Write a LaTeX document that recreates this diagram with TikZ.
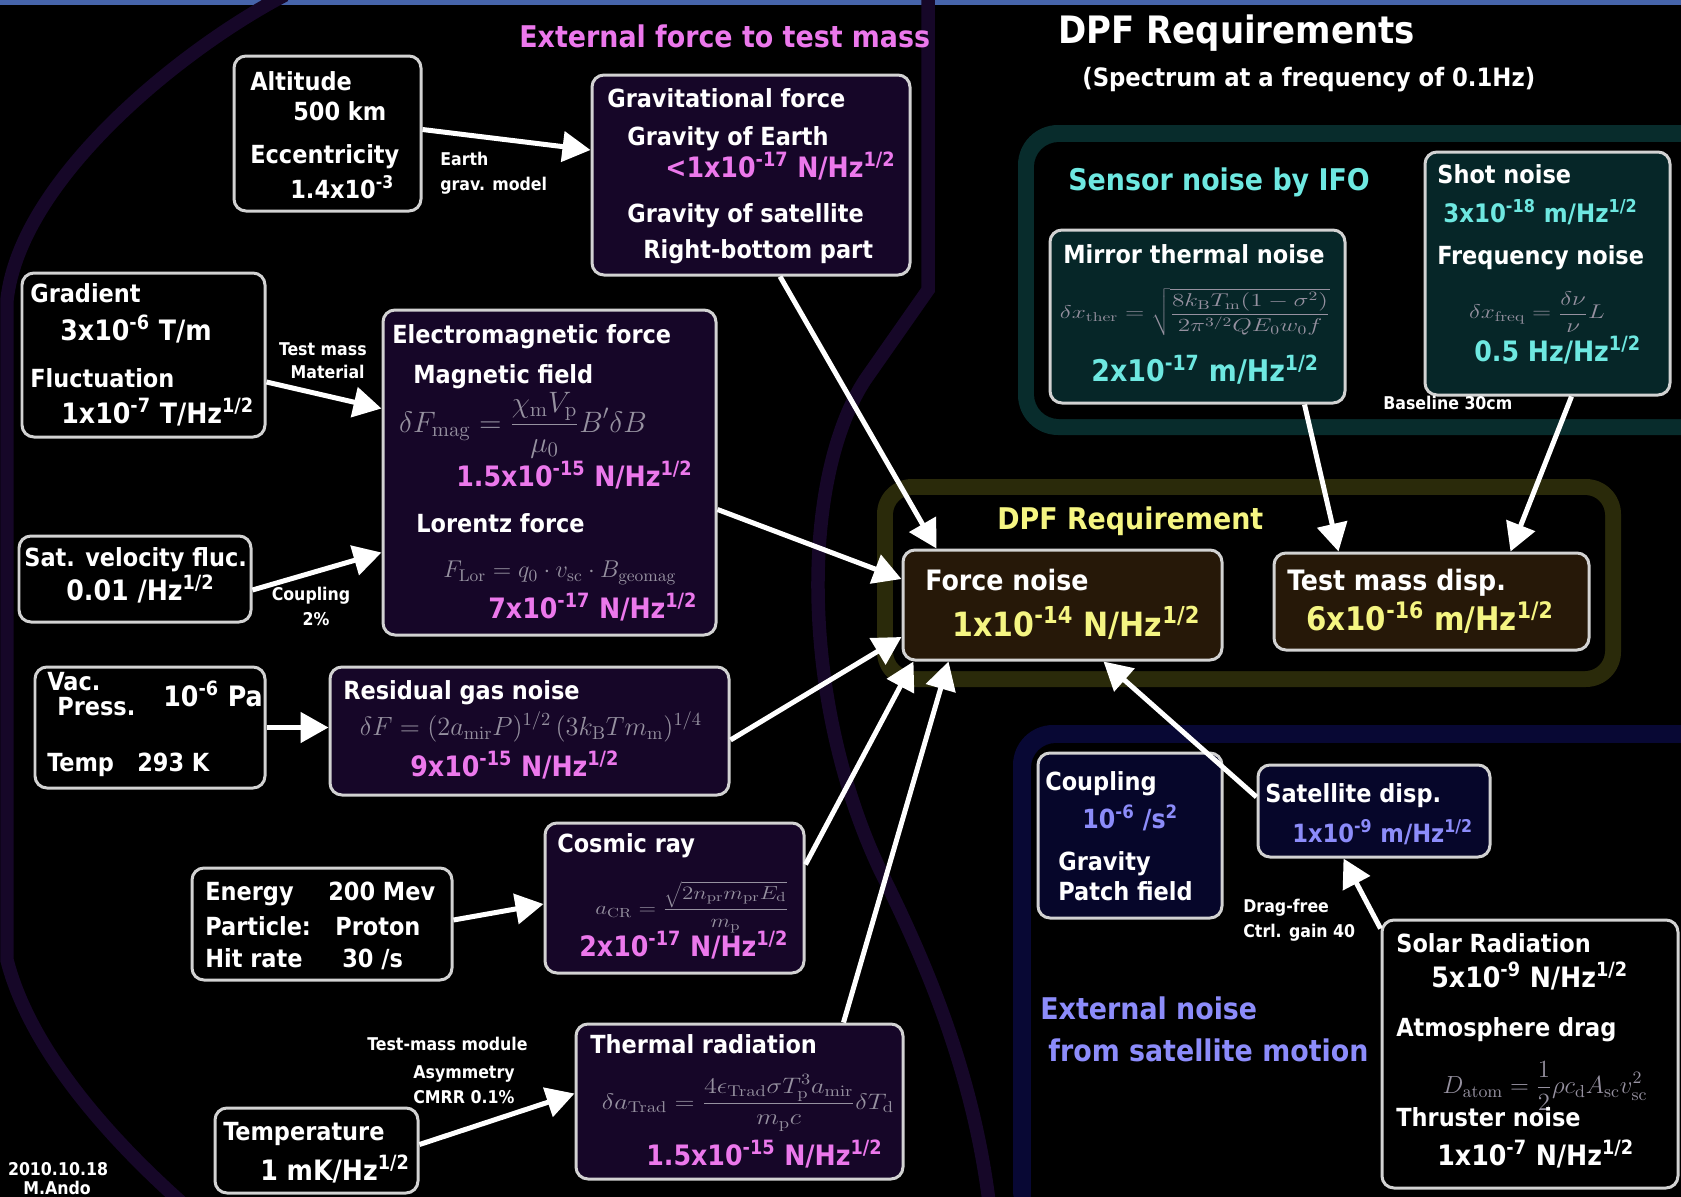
\RequirePackage{fix-cm}
\documentclass[tikz,border=0pt]{standalone}
\usepackage[no-math]{fontspec}
\setmainfont{DejaVu Sans Condensed}
\usetikzlibrary{arrows.meta, calc, fit}

\definecolor{boxline}{RGB}{210,210,210}
\definecolor{forcebg}{RGB}{22,6,40}
\definecolor{sensorbg}{RGB}{6,38,40}
\definecolor{dpfbg}{RGB}{38,24,8}
\definecolor{extbg}{RGB}{6,6,42}
\definecolor{ringcol}{RGB}{22,7,40}
\definecolor{tealframe}{RGB}{8,44,44}
\definecolor{yelframe}{RGB}{42,42,10}
\definecolor{blueframe}{RGB}{8,8,52}
\definecolor{topbar}{RGB}{70,100,170}
\definecolor{forcetxt}{RGB}{236,120,236}
\definecolor{sensortxt}{RGB}{110,232,225}
\definecolor{dpftxt}{RGB}{245,245,130}
\definecolor{exttxt}{RGB}{140,140,250}
\definecolor{eqgray}{RGB}{150,145,160}

% formulas are drawn a little flatter than they are set
\newcommand{\squash}[2]{\scalebox{1}[#1]{#2}}

\begin{document}
\begin{tikzpicture}[x=0.02cm, y=-0.02cm,
	box/.style={draw=boxline, line width=0.06cm, rounded corners=0.24cm, inner sep=0pt},
	parbox/.style={box, fill=black},
	forcebox/.style={box, fill=forcebg},
	sensorbox/.style={box, fill=sensorbg},
	dpfbox/.style={box, fill=dpfbg},
	extbox/.style={box, fill=extbg},
	txt/.style={inner sep=0pt, anchor=base west, text=white, font=\fontsize{14.2}{17}\selectfont\bfseries},
	vtxt/.style={txt, font=\fontsize{16}{19}\selectfont\bfseries},
	ftxt/.style={txt, text=forcetxt, font=\fontsize{16}{19}\selectfont\bfseries},
	stxt/.style={txt, text=sensortxt, font=\fontsize{16}{19}\selectfont\bfseries},
	etxt/.style={txt, text=exttxt, font=\fontsize{15}{18}\selectfont\bfseries},
	dhead/.style={txt, font=\fontsize{16}{19}\selectfont\bfseries},
	dtxt/.style={txt, text=dpftxt, font=\fontsize{19}{22}\selectfont\bfseries},
	lbl/.style={txt, font=\fontsize{10}{12}\selectfont\bfseries},
	head/.style={txt, font=\fontsize{17}{20}\selectfont\bfseries},
	eqn/.style={inner sep=0pt, text=eqgray, font=\fontsize{15}{18}\selectfont},
	flow/.style={-{Triangle[length=0.56cm,width=0.6cm]}, draw=white, fill=white, line width=0.1cm},
	]
	\useasboundingbox (0,0) rectangle (1681,1197);
	\fill[black] (0,0) rectangle (1681,1197);
	\fill[topbar] (0,0) rectangle (1681,5);
	
	% background regions
	\draw[ringcol, line width=0.27cm] (285,-5) .. controls (180,50) and (20,180) .. (7,300) -- (7,960) .. controls (30,1050) and (110,1140) .. (190,1210);
	\draw[ringcol, line width=0.27cm] (928,-5) -- (928,290) -- (865,380) .. controls (800,480) and (800,700) .. (880,870) .. controls (930,970) and (975,1080) .. (990,1210);
	\fill[tealframe, rounded corners=0.8cm] (1018,125) rectangle (1730,435);
	\fill[black, rounded corners=0.5cm] (1034,142) rectangle (1730,419);
	\fill[yelframe, rounded corners=0.7cm] (877,479) rectangle (1621,687);
	\fill[black, rounded corners=0.4cm] (893,495) rectangle (1605,671);
	\fill[blueframe, rounded corners=0.8cm] (1013,725) rectangle (1730,1230);
	\fill[black, rounded corners=0.5cm] (1031,743) rectangle (1730,1230);
	
	% boxes
	\node[parbox, fit={(234,56) (421,211)}] (alt) {};
	\node[forcebox, fit={(592,75) (910,275)}] (grav) {};
	\node[parbox, fit={(22,273) (265,437)}] (grad) {};
	\node[forcebox, fit={(383,310) (716,635)}] (em) {};
	\node[parbox, fit={(19,536) (251,622)}] (satvel) {};
	\node[parbox, fit={(35,667) (265,788)}] (vac) {};
	\node[forcebox, fit={(330,667) (729,795)}] (res) {};
	\node[parbox, fit={(192,868) (452,980)}] (energy) {};
	\node[forcebox, fit={(545,823) (804,973)}] (cosmic) {};
	\node[parbox, fit={(215,1108) (418,1193)}] (temp) {};
	\node[forcebox, fit={(576,1024) (903,1179)}] (thermal) {};
	\node[sensorbox, fit={(1050,230) (1345,403)}] (mirror) {};
	\node[sensorbox, fit={(1425,152) (1670,395)}] (shot) {};
	\node[dpfbox, fit={(903,550) (1222,660)}] (force) {};
	\node[dpfbox, fit={(1274,553) (1589,650)}] (tmd) {};
	\node[extbox, fit={(1038,753) (1222,918)}] (coupling) {};
	\node[extbox, fit={(1258,765) (1490,857)}] (satdisp) {};
	\node[parbox, fit={(1382,920) (1678,1188)}] (solar) {};
	
	% arrows
	\draw[flow] ($(alt.east)+(0,-4)$) -- ($(grav.west)+(0,-25)$);
	\draw[flow] ($(grav.south)+(29,0)$) -- ($(force.north west)+(35,0)$);
	\draw[flow] ($(grad.east)+(0,27)$) -- ($(em.west)+(0,-64)$);
	\draw[flow] ($(satvel.east)+(0,11)$) -- ($(em.west)+(0,80)$);
	\draw[flow] ($(em.east)+(0,37)$) -- ($(force.west)+(0,-26)$);
	\draw[flow] (vac.east) -- (vac.east -| res.west);
	\draw[flow] ($(res.east)+(0,9)$) -- ($(force.west)+(0,32)$);
	\draw[flow] ($(energy.east)+(0,-4)$) -- ($(cosmic.west)+(0,6)$);
	\draw[flow] ($(cosmic.north east)+(0,43)$) -- ($(force.south west)+(12,0)$);
	\draw[flow] ($(thermal.north east)+(-61,0)$) -- ($(force.south west)+(47,0)$);
	\draw[flow] ($(temp.east)+(0,-6)$) -- ($(thermal.west)+(0,-8)$);
	\draw[flow] ($(mirror.south east)+(-42,0)$) -- ($(tmd.north west)+(66,0)$);
	\draw[flow] ($(shot.south)+(24,0)$) -- ($(tmd.north west)+(238,0)$);
	\draw[flow] ($(satdisp.west)+(0,-14)$) -- ($(force.south west)+(202,0)$);
	\draw[flow] ($(solar.north west)+(0,10)$) -- ($(satdisp.south west)+(87,0)$);
	
	% titles
	\node[head, text=forcetxt] (hforce) at (519,47) {External force to test mass};
	\node[txt, font=\fontsize{21.5}{26}\selectfont\bfseries] (title) at (1058,43) {DPF Requirements};
	\node[txt, font=\fontsize{14.4}{17}\selectfont\bfseries] (subtitle) at (1082,86) {(Spectrum at a frequency of 0.1Hz)};
	\node[head, text=sensortxt] (hsensor) at (1068,190) {Sensor noise by IFO};
	\node[head, text=dpftxt] (hdpf) at (997,529) {DPF Requirement};
	\node[head, text=exttxt] (hext1) at (1040,1019) {External noise};
	\node[head, text=exttxt] (hext2) at (1048,1061) {from satellite motion};
	
	% altitude, gravity
	\node[txt] (alt1) at (250,90) {Altitude};
	\node[txt] (alt2) at (293,120) {500 km};
	\node[txt] (alt3) at (250,163) {Eccentricity};
	\node[txt] (alt4) at (290,198) {1.4x10\textsuperscript{-3}};
	\node[lbl] (altlbl1) at (440,165) {Earth};
	\node[lbl] (altlbl2) at (440,190) {grav. model};
	\node[txt] (grav1) at (607,107) {Gravitational force};
	\node[txt] (grav2) at (627,145) {Gravity of Earth};
	\node[ftxt] (grav3) at (665,177) {<1x10\textsuperscript{-17} N/Hz\textsuperscript{1/2}};
	\node[txt] (grav4) at (627,222) {Gravity of satellite};
	\node[txt] (grav5) at (643,258) {Right-bottom part};
	
	% gradient, electromagnetic
	\node[txt] (grad1) at (30,302) {Gradient};
	\node[vtxt] (grad2) at (60,340) {3x10\textsuperscript{-6} T/m};
	\node[txt] (grad3) at (30,387) {Fluctuation};
	\node[vtxt] (grad4) at (61,423) {1x10\textsuperscript{-7} T/Hz\textsuperscript{1/2}};
	\node[lbl, anchor=base east] (gradlbl1) at (367,355) {Test mass};
	\node[lbl, anchor=base east] (gradlbl2) at (365,378) {Material};
	\node[txt] (em1) at (392,343) {Electromagnetic force};
	\node[txt] (em2) at (413,383) {Magnetic field};
	\node[eqn, font=\fontsize{16.8}{20}\selectfont] (em3) at (523,425) {$\displaystyle\delta F_{\mathrm{mag}}=\frac{\chi_{\mathrm{m}}V_{\mathrm{p}}}{\mu_0}B'\delta B$};
	\node[ftxt] (em4) at (456,486) {1.5x10\textsuperscript{-15} N/Hz\textsuperscript{1/2}};
	\node[txt] (em5) at (416,532) {Lorentz force};
	\node[eqn, font=\fontsize{13.8}{16}\selectfont] (em6) at (560,573) {$F_{\mathrm{Lor}}=q_0\cdot v_{\mathrm{sc}}\cdot B_{\mathrm{geomag}}$};
	\node[ftxt] (em7) at (488,618) {7x10\textsuperscript{-17} N/Hz\textsuperscript{1/2}};
	
	% satellite velocity
	\node[txt] (sat1) at (24,566) {Sat. velocity fluc.};
	\node[vtxt] (sat2) at (66,600) {0.01 /Hz\textsuperscript{1/2}};
	\node[lbl, anchor=base] (satlbl1) at (311,600) {Coupling};
	\node[lbl, anchor=base] (satlbl2) at (316,625) {2\%};
	
	% vacuum, residual gas
	\node[txt] (vac1) at (47,690) {Vac.};
	\node[txt] (vac2) at (57,715) {Press.};
	\node[vtxt] (vac3) at (163,706) {10\textsuperscript{-6} Pa};
	\node[txt] (vac4) at (47,771) {Temp};
	\node[txt] (vac5) at (137,771) {293 K};
	\node[txt] (res1) at (343,699) {Residual gas noise};
	\node[eqn] (res2) at (531,727) {$\delta F=(2a_{\mathrm{mir}}P)^{1/2}\,(3k_{\mathrm{B}}Tm_{\mathrm{m}})^{1/4}$};
	\node[ftxt] (res3) at (410,776) {9x10\textsuperscript{-15} N/Hz\textsuperscript{1/2}};
	
	% cosmic ray
	\node[txt] (en1) at (205,900) {Energy};
	\node[txt] (en2) at (328,900) {200 Mev};
	\node[txt] (en3) at (205,935) {Particle:};
	\node[txt] (en4) at (335,935) {Proton};
	\node[txt] (en5) at (205,967) {Hit rate};
	\node[txt] (en6) at (342,967) {30 /s};
	\node[txt] (cr1) at (557,852) {Cosmic ray};
	\node[eqn, font=\fontsize{13.1}{16}\selectfont] (cr2) at (692,907) {\squash{0.82}{$\displaystyle a_{\mathrm{CR}}=\frac{\sqrt{2n_{\mathrm{pr}}m_{\mathrm{pr}}E_{\mathrm{d}}}}{m_{\mathrm{p}}}$}};
	\node[ftxt] (cr3) at (579,956) {2x10\textsuperscript{-17} N/Hz\textsuperscript{1/2}};
	
	% thermal radiation
	\node[txt] (tmp1) at (223,1140) {Temperature};
	\node[vtxt] (tmp2) at (260,1180) {1 mK/Hz\textsuperscript{1/2}};
	\node[lbl] (tmplbl1) at (367,1050) {Test-mass module};
	\node[lbl] (tmplbl2) at (413,1078) {Asymmetry};
	\node[lbl] (tmplbl3) at (413,1103) {CMRR 0.1\%};
	\node[txt] (th1) at (590,1053) {Thermal radiation};
	\node[eqn] (th2) at (748,1103) {\squash{0.85}{$\displaystyle\delta a_{\mathrm{Trad}}=\frac{4\epsilon_{\mathrm{Trad}}\sigma T_{\mathrm{p}}^3a_{\mathrm{mir}}}{m_{\mathrm{p}}c}\delta T_{\mathrm{d}}$}};
	\node[ftxt] (th3) at (646,1165) {1.5x10\textsuperscript{-15} N/Hz\textsuperscript{1/2}};
	\node[lbl, anchor=base] (date1) at (58,1175) {2010.10.18};
	\node[lbl, anchor=base] (date2) at (57,1194) {M.Ando};
	
	% sensor noise
	\node[txt] (mir1) at (1063,263) {Mirror thermal noise};
	\node[eqn, font=\fontsize{14.4}{17}\selectfont] (mir2) at (1195,312) {\squash{0.73}{$\displaystyle\delta x_{\mathrm{ther}}=\sqrt{\frac{8k_{\mathrm{B}}T_{\mathrm{m}}(1-\sigma^2)}{2\pi^{3/2}QE_0w_0f}}$}};
	\node[stxt, font=\fontsize{17}{20}\selectfont\bfseries] (mir3) at (1091,381) {2x10\textsuperscript{-17} m/Hz\textsuperscript{1/2}};
	\node[txt] (shot1) at (1437,183) {Shot noise};
	\node[stxt, font=\fontsize{14.5}{17}\selectfont\bfseries] (shot2) at (1443,222) {3x10\textsuperscript{-18} m/Hz\textsuperscript{1/2}};
	\node[txt] (shot3) at (1437,264) {Frequency noise};
	\node[eqn, font=\fontsize{14.3}{17}\selectfont] (shot4) at (1537,312) {\squash{0.79}{$\displaystyle\delta x_{\mathrm{freq}}=\frac{\delta\nu}{\nu}L$}};
	\node[stxt] (shot5) at (1474,361) {0.5 Hz/Hz\textsuperscript{1/2}};
	\node[lbl] (shotlbl) at (1383,409) {Baseline 30cm};
	
	% requirement
	\node[dhead] (fn1) at (925,590) {Force noise};
	\node[dtxt] (fn2) at (952,636) {1x10\textsuperscript{-14} N/Hz\textsuperscript{1/2}};
	\node[dhead] (tm1) at (1287,590) {Test mass disp.};
	\node[dtxt, font=\fontsize{18.5}{22}\selectfont\bfseries] (tm2) at (1306,630) {6x10\textsuperscript{-16} m/Hz\textsuperscript{1/2}};
	
	% satellite motion
	\node[txt] (cp1) at (1045,790) {Coupling};
	\node[etxt] (cp2) at (1082,828) {10\textsuperscript{-6} /s\textsuperscript{2}};
	\node[txt] (cp3) at (1058,870) {Gravity};
	\node[txt] (cp4) at (1058,900) {Patch field};
	\node[txt] (sd1) at (1265,802) {Satellite disp.};
	\node[etxt, font=\fontsize{14.3}{17}\selectfont\bfseries] (sd2) at (1292,842) {1x10\textsuperscript{-9} m/Hz\textsuperscript{1/2}};
	\node[lbl] (sdlbl1) at (1243,912) {Drag-free};
	\node[lbl] (sdlbl2) at (1243,937) {Ctrl. gain 40};
	\node[txt] (sol1) at (1396,952) {Solar Radiation};
	\node[vtxt] (sol2) at (1431,987) {5x10\textsuperscript{-9} N/Hz\textsuperscript{1/2}};
	\node[txt] (sol3) at (1396,1036) {Atmosphere drag};
	\node[eqn, font=\fontsize{14.1}{17}\selectfont] (sol4) at (1545,1086) {$\displaystyle D_{\mathrm{atom}}=\frac{1}{2}\rho c_{\mathrm{d}}A_{\mathrm{sc}}v_{\mathrm{sc}}^2$};
	\node[txt] (sol5) at (1396,1126) {Thruster noise};
	\node[vtxt] (sol6) at (1437,1165) {1x10\textsuperscript{-7} N/Hz\textsuperscript{1/2}};
	
\end{tikzpicture}
\end{document}
